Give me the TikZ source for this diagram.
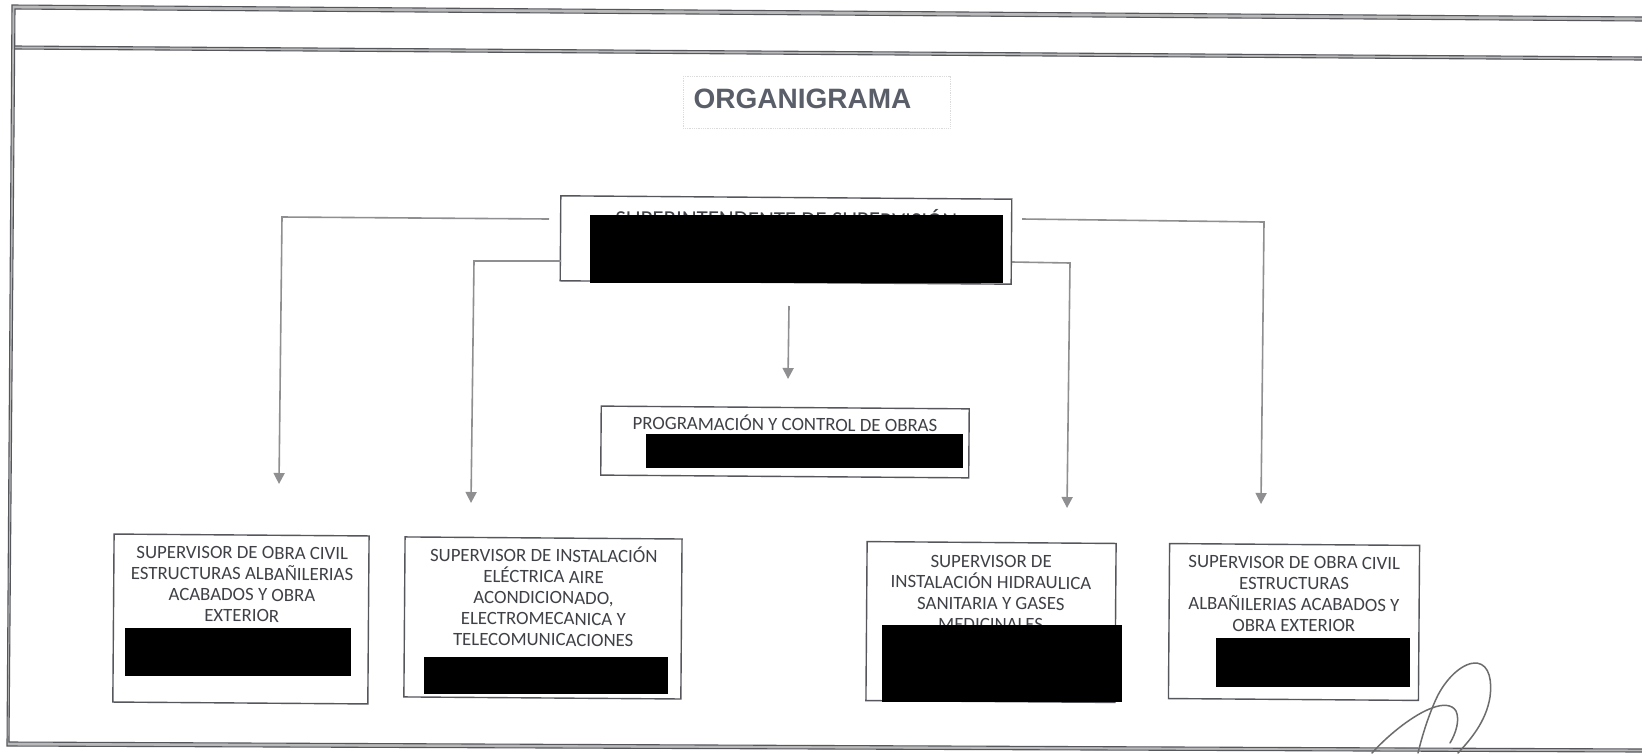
\documentclass[tikz,border=0pt]{standalone}
\usepackage{fontspec}
\setmainfont{Carlito}
\newfontfamily\titlefont{Liberation Sans}
\usetikzlibrary{arrows.meta}
\definecolor{inkbox}{HTML}{55575C}
\definecolor{inktext}{HTML}{3F4146}
\definecolor{inktitle}{HTML}{5A5E69}
\definecolor{inkarrow}{HTML}{8F8F91}
\tikzset{
  orgbox/.style={draw=inkbox,line width=1.4pt,inner sep=0pt,fill=none},
  orgtext/.style={text=inktext,align=center,font=\fontsize{18.8}{21}\selectfont,inner sep=0pt},
  conn/.style={draw=inkarrow,line width=1.6pt,-{Triangle[length=11pt,width=11pt,fill=inkarrow]}},
  frameline/.style={draw=inkbox,line width=1.1pt},
  framefill/.style={fill=gray!55,draw=none},
  redact/.style={fill=black,draw=none},
  sig/.style={draw=gray!85!black,line width=1.5pt,line cap=round}
}
\begin{document}
\begin{tikzpicture}[x=1pt,y=-1pt]
\path[use as bounding box,fill=white] (0,0) rectangle (1642,753);
\clip (0,0) rectangle (1642,753);
% frame
\fill[framefill] (12,5) -- (1642,17) -- (1642,21) -- (15,9) -- cycle;
\fill[framefill] (15,46) -- (1642,57) -- (1642,60) -- (15,49) -- cycle;
\fill[framefill] (7,746) -- (1642,752) -- (1642,749) -- (9,742) -- cycle;
\fill[framefill] (12,5) -- (15,9) -- (9,742) -- (7,746) -- cycle;
\draw[frameline] (1642,17) -- (12,5) -- (7,746) -- (1642,752);
\draw[frameline] (1642,21) -- (15,9) -- (9,742) -- (1642,749);
\draw[frameline] (15,46) -- (1642,57);
\draw[frameline] (15,49) -- (1642,60);
% title
\draw[gray!28,densely dotted,line width=0.8pt] (683,76) rectangle (950,128);
\node[text=inktitle,font=\titlefont\bfseries\fontsize{28}{30}\selectfont,inner sep=0pt] (title) at (802.5,99) {ORGANIGRAMA};
% boxes and text (slightly skewed like the scan)
\begin{scope}[rotate=-0.43,transform shape]
\node[orgbox,minimum width=451pt,minimum height=85pt] (top) at (787.8,234.1) {};
\node[orgbox,minimum width=368pt,minimum height=69pt] (mid) at (788.3,436.1) {};
\node[orgbox,minimum width=255pt,minimum height=168pt] (boxa) at (245.6,617.2) {};
\node[orgbox,minimum width=277pt,minimum height=160pt] (boxb) at (547.6,613.9) {};
\node[orgbox,minimum width=249pt,minimum height=159pt] (boxc) at (995.7,614.6) {};
\node[orgbox,minimum width=250pt,minimum height=155pt] (boxd) at (1298.7,612.3) {};
\node[orgtext,font=\fontsize{22.9}{25}\selectfont] (ttop) at (788,212) {SUPERINTENDENTE DE SUPERVISIÓN};
\node[orgtext] (tmid) at (788.2,417) {PROGRAMACIÓN Y CONTROL DE OBRAS};
\node[orgtext] (ta) at (246.4,582.5) {SUPERVISOR DE OBRA CIVIL\\ESTRUCTURAS ALBAÑILERIAS\\ACABADOS Y OBRA\\EXTERIOR};
\node[orgtext] (tb) at (548,592) {SUPERVISOR DE INSTALACIÓN\\ELÉCTRICA AIRE\\ACONDICIONADO,\\ELECTROMECANICA Y\\TELECOMUNICACIONES};
\node[orgtext] (tc) at (995.4,585.6) {SUPERVISOR DE\\INSTALACIÓN HIDRAULICA\\SANITARIA Y GASES\\MEDICINALES};
\node[orgtext] (td) at (1298.5,584.3) {SUPERVISOR DE OBRA CIVIL\\ESTRUCTURAS\\ALBAÑILERIAS ACABADOS Y\\OBRA EXTERIOR};
\end{scope}
% connectors
\coordinate (a1) at (549,219); \coordinate (a2) at (282,217); \coordinate (a3) at (279,484);
\coordinate (b1) at (561,261); \coordinate (b2) at (474,261); \coordinate (b3) at (471,503);
\coordinate (c1) at (789,306); \coordinate (c3) at (788,379);
\coordinate (d1) at (1012,262); \coordinate (d2) at (1070,263); \coordinate (d3) at (1067,508);
\coordinate (e1) at (1022,219); \coordinate (e2) at (1264,222); \coordinate (e3) at (1261,504);
\draw[conn] (a1) -- (a2) -- (a3);
\draw[conn] (b1) -- (b2) -- (b3);
\draw[conn] (c1) -- (c3);
\draw[conn] (d1) -- (d2) -- (d3);
\draw[conn] (e1) -- (e2) -- (e3);
% redactions
\fill[redact] (590,215) rectangle (1003,283);
\fill[redact] (646,434) rectangle (963,468);
\fill[redact] (125,628) rectangle (351,676);
\fill[redact] (424,657) rectangle (668,694);
\fill[redact] (882,625) rectangle (1122,702);
\fill[redact] (1216,638) rectangle (1410,687);
% signature
\draw[sig] (1418,753) .. controls (1424,728) and (1432,707) .. (1438,695)
  .. controls (1448,676) and (1464,662) .. (1477,663)
  .. controls (1490,665) and (1492,682) .. (1490,697)
  .. controls (1486,722) and (1470,740) .. (1458,753);
\draw[sig] (1372,753) .. controls (1390,733) and (1415,714) .. (1432,708)
  .. controls (1442,704) and (1452,704) .. (1456,711)
  .. controls (1460,720) and (1456,733) .. (1450,743);
\end{tikzpicture}
\end{document}
